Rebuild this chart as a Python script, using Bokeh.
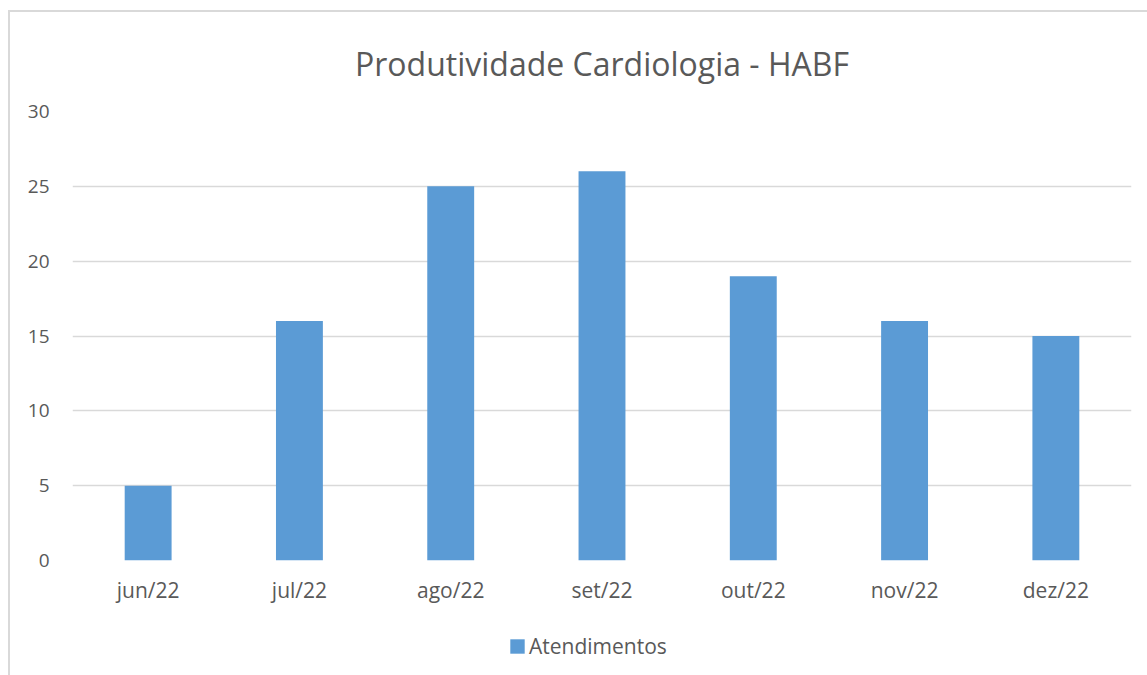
from bokeh.plotting import figure
from bokeh.models import Legend, LegendItem, FactorRange, Range1d, FixedTicker
from bokeh.layouts import column
from bokeh.embed import file_html
from bokeh.resources import INLINE

months = ["jun/22", "jul/22", "ago/22", "set/22", "out/22", "nov/22", "dez/22"]
atendimentos = [5, 16, 25, 26, 19, 16, 15]
y_ticks = [0, 5, 10, 15, 20, 25, 30]
title_text = "Produtividade Cardiologia - HABF"
series_name = "Atendimentos"

FONT = "Open Sans"
TXT = "#595959"
BAR = "#5B9BD5"
GRID = "#D9D9D9"

# main chart
p = figure(
    x_range=FactorRange(*months, range_padding=0),
    y_range=Range1d(0, 30),
    width=1137, height=598,
    output_backend="svg", toolbar_location=None,
    min_border_left=62, min_border_right=16, min_border_top=98, min_border_bottom=50,
)
p.outline_line_color = None
p.background_fill_color = "white"
p.border_fill_color = "white"

r = p.vbar(x=months, top=atendimentos, width=0.31, color=BAR, line_color=None)

p.xgrid.grid_line_color = None
p.ygrid.grid_line_color = GRID
p.ygrid.grid_line_width = 1.5
p.yaxis.ticker = FixedTicker(ticks=y_ticks)

for ax in (p.xaxis, p.yaxis):
    ax.axis_line_color = None
    ax.major_tick_line_color = None
    ax.minor_tick_line_color = None
    ax.major_label_text_font = FONT
    ax.major_label_text_color = TXT
p.yaxis.major_label_text_font_size = "19px"
p.xaxis.major_label_text_font_size = "21px"
p.yaxis.major_label_standoff = 17
p.xaxis.major_label_standoff = 9

p.title.text = title_text
p.title.text_font = FONT
p.title.text_font_size = "32px"
p.title.text_font_style = "normal"
p.title.text_color = TXT
p.title.align = "center"
p.title.standoff = 54

# legend strip below the chart
p2 = figure(
    x_range=FactorRange(*months, range_padding=0),
    y_range=Range1d(1000, 1001),
    width=1137, height=65,
    output_backend="svg", toolbar_location=None,
    min_border=0,
)
p2.outline_line_color = None
p2.border_fill_color = "white"
p2.background_fill_color = "white"
p2.axis.visible = False
p2.grid.grid_line_color = None
r2 = p2.vbar(x=months, top=atendimentos, width=0.31, color=BAR, line_color=None)

legend = Legend(items=[LegendItem(label=series_name, renderers=[r2])],
                location=(436, 15), orientation="horizontal",
                label_text_font=FONT, label_text_font_size="21px", label_text_color=TXT,
                glyph_width=18, glyph_height=18, label_standoff=3,
                padding=0, margin=0, border_line_color=None, background_fill_alpha=0)
p2.add_layout(legend, "center")

layout = column(p, p2, spacing=0)
layout.margin = (10, 0, 0, 8)
layout.styles = {"border-top": "2px solid #D9D9D9", "border-left": "2px solid #D9D9D9"}

open("out.html", "w").write(file_html(layout, INLINE))
